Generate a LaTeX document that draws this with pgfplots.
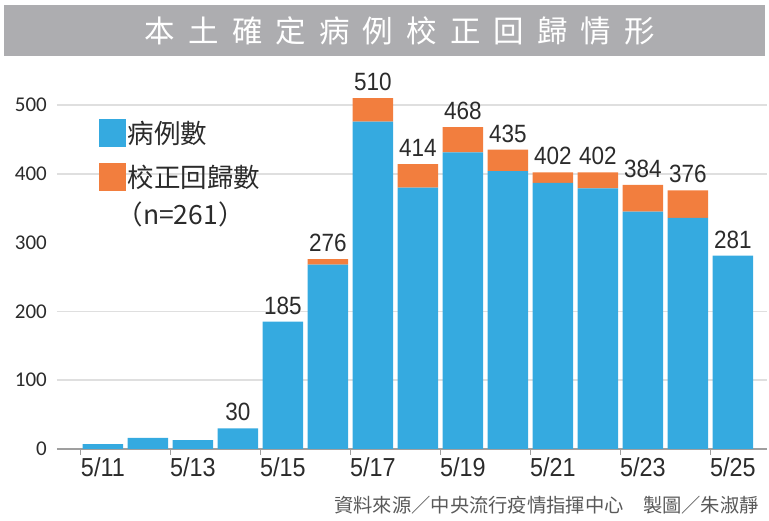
\documentclass[border=0pt]{standalone}
\usepackage{pgfplots}
\pgfplotsset{compat=1.18}
\usepackage{pgfplotstable}
\usepackage{fontspec}
\setmainfont{Liberation Sans}
\newfontfamily\cjk{Noto Sans CJK TC}
\newfontfamily\narrow[FakeStretch=0.9]{Liberation Sans}
\newfontfamily\carlito{Carlito}
\definecolor{barblue}{HTML}{35AAE0}
\definecolor{barorange}{HTML}{F27E3E}
\definecolor{titlegray}{HTML}{ADADB0}
\definecolor{txt}{HTML}{2B2B2B}

\pgfplotstableread{
x blue orange
0 7 0
1 16 0
2 13 0
3 30 0
4 185 0
5 268 8
6 476 34
7 380 34
8 431 37
9 404 31
10 387 15
11 379 23
12 345 39
13 336 40
14 281 0
}\data

\pgfplotstableread{
x total
3 30
4 185
5 276
6 510
7 414
8 468
9 435
10 402
11 402
12 384
13 376
14 281
}\totals

\begin{document}
\begin{tikzpicture}
\path[use as bounding box] (0pt,0pt) rectangle (769pt,-521pt);
\fill[titlegray] (4pt,-5pt) rectangle (765pt,-56pt);
\node[text=white, inner sep=0pt, font=\cjk\addfontfeature{LetterSpace=43}\fontsize{30.5}{30.5}\selectfont] at (400pt,-31pt) {本土確定病例校正回歸情形};
\begin{axis}[
  at={(57pt,-449pt)}, anchor=south west,
  scale only axis, width=710pt, height=371.5pt,
  xmin=-1.02, xmax=14.76, ymin=0, ymax=540,
  ybar stacked, bar width=0.9,
  clip=false,
  axis x line*=bottom, axis y line*=left,
  y axis line style={draw=none},
  x axis line style={-, draw=gray!75, line width=2pt},
  tick align=outside,
  xtick={0,2,...,14},
  xticklabels={5/11,5/13,5/15,5/17,5/19,5/21,5/23,5/25},
  major tick length=0pt,
  xticklabel style={font=\narrow\fontsize{26}{26}\selectfont, text=txt, inner sep=0pt, yshift=-8pt},
  extra x ticks={-0.5,1.5,...,13.5},
  extra x tick labels={},
  extra x tick style={major tick length=6pt, tick style={draw=gray!75, line width=1.2pt}},
  ytick={0,100,...,500},
  ytick style={draw=none},
  yticklabel style={font=\carlito\fontsize{21}{21}\selectfont, text=txt, inner sep=0pt, xshift=-10pt},
  /pgf/number format/assume math mode=true,
  extra y ticks={100,200,400,500},
  extra y tick labels={},
  extra y tick style={grid=major, major tick length=0pt, major grid style={draw=gray!25, line width=1.5pt}},
  legend style={draw=none, fill=none, at={(0.059,0.888)}, anchor=north west, inner sep=0pt,
    font=\cjk\fontsize{26.5}{26.5}\selectfont, text=txt, row sep=16pt,
    nodes={inner sep=1.5pt}},
  legend cell align=left,
  legend image code/.code={\fill[#1] (0pt,-14pt) rectangle (27pt,14pt);},
]
\addplot[fill=barblue, draw=none] table[x=x, y=blue]{\data};
\addlegendentry{病例數}
\addplot[fill=barorange, draw=none] table[x=x, y=orange]{\data};
\addlegendentry{校正回歸數}
\addlegendimage{empty legend}
\addlegendentry{\hspace*{-11pt}\raisebox{7pt}[\height][\depth]{（n=261）}}
\end{axis}
\begin{axis}[
  at={(57pt,-449pt)}, anchor=south west,
  scale only axis, width=710pt, height=371.5pt,
  xmin=-1.02, xmax=14.76, ymin=0, ymax=540,
  hide axis, clip=false, ybar, bar width=0.9,
  /pgf/number format/assume math mode=true,
]
\addplot[draw=none, fill=none, nodes near coords,
  nodes near coords style={font=\narrow\fontsize{25}{25}\selectfont, text=txt, anchor=south, inner sep=0pt, yshift=7pt}]
  table[x=x, y=total]{\totals};
\end{axis}
\node[anchor=east, font=\cjk\fontsize{19.3}{19.3}\selectfont, text=gray!70!black, inner sep=0pt] at (759pt,-505pt) {資料來源／中央流行疫情指揮中心　製圖／朱淑靜};
\end{tikzpicture}
\end{document}
